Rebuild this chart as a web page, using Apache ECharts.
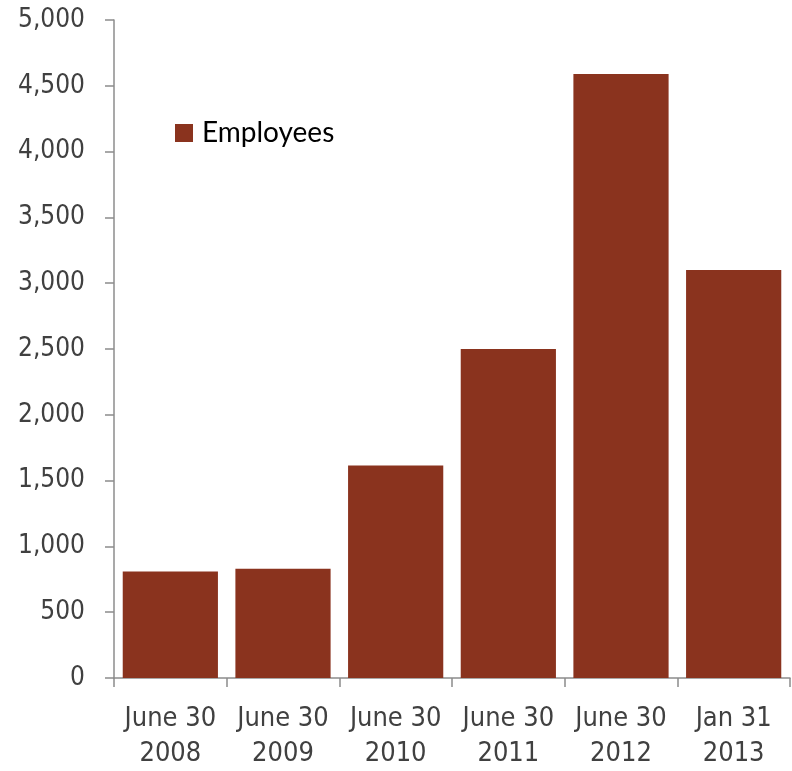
<!DOCTYPE html>
<html>
<head>
<meta charset="utf-8">
<script src="https://cdn.jsdelivr.net/npm/echarts@6/dist/echarts.min.js"></script>
<style>
  html, body { margin: 0; padding: 0; background: #fff; }
  #main { width: 792px; height: 771px; }
</style>
</head>
<body>
<!-- chart container -->
<div id="main"></div>
<script>
// data
var categories = ['June 30\n2008', 'June 30\n2009', 'June 30\n2010', 'June 30\n2011', 'June 30\n2012', 'Jan 31\n2013'];
var employees = [810, 830, 1615, 2500, 4590, 3100];
var yTicks = { min: 0, max: 5000, interval: 500 };

var axisFont = "'DejaVu Sans Condensed', Roboto, sans-serif";
var axisGrey = '#8c8c8c';

var myChart = echarts.init(document.getElementById('main'));
var option = {
  animation: false,
  grid: { left: 114, right: 2, top: 20, bottom: 87, containLabel: false },
  legend: {
    data: ['Employees'],
    left: 170,
    top: 114,
    itemWidth: 18,
    itemHeight: 18,
    icon: 'rect',
    textStyle: { color: '#000', fontSize: 28, fontFamily: "Lato, 'Noto Sans', sans-serif", padding: [0, 0, 0, 4] }
  },
  xAxis: {
    type: 'category',
    data: categories,
    axisLine: { lineStyle: { color: axisGrey, width: 1.5 } },
    axisTick: { show: true, length: 9, lineStyle: { color: axisGrey, width: 1.5 } },
    axisLabel: { interval: 0, color: '#404040', fontSize: 27, fontFamily: axisFont, margin: 23, lineHeight: 35 }
  },
  yAxis: {
    type: 'value',
    min: yTicks.min,
    max: yTicks.max,
    interval: yTicks.interval,
    splitLine: { show: false },
    axisLine: { show: true, lineStyle: { color: axisGrey, width: 1.5 } },
    axisTick: { show: true, length: 9, lineStyle: { color: axisGrey, width: 1.5 } },
    axisLabel: {
      color: '#404040', fontSize: 26, fontFamily: axisFont, margin: 29,
      formatter: function (v) { return v.toLocaleString('en-US'); }
    }
  },
  series: [
    {
      name: 'Employees',
      type: 'bar',
      data: employees,
      barCategoryGap: '15.5%',
      itemStyle: { color: '#8a331e' }
    }
  ]
};
myChart.setOption(option);
</script>
</body>
</html>
